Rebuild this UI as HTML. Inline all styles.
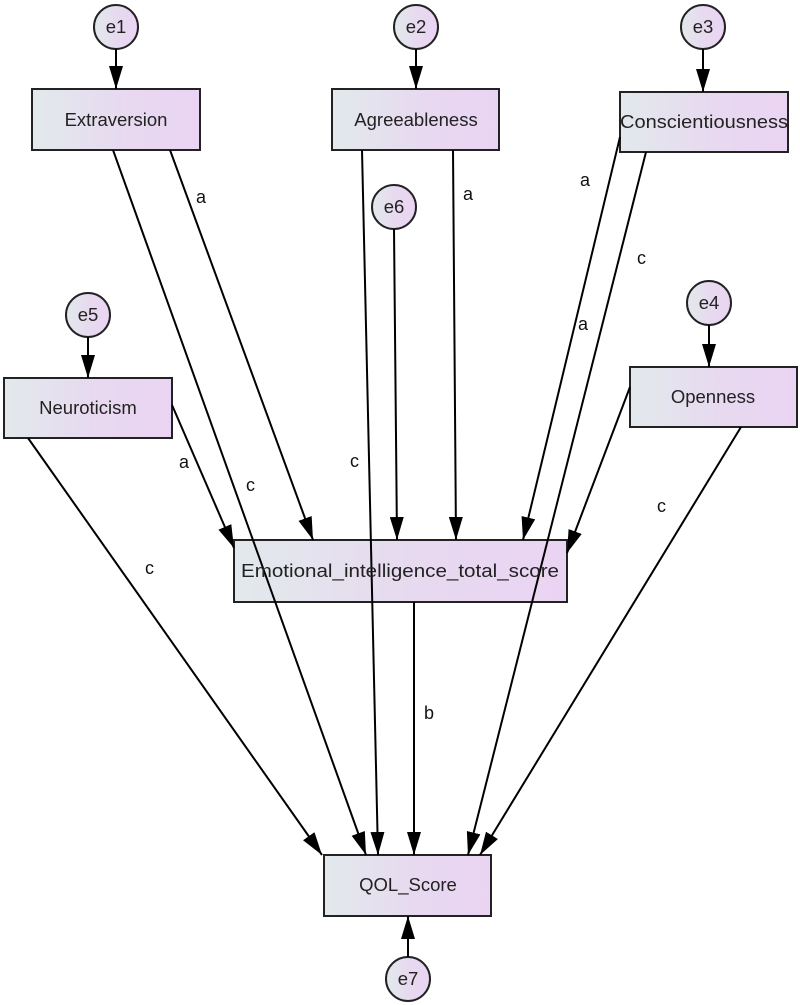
<!DOCTYPE html>
<html><head><meta charset="utf-8"><style>
html,body{margin:0;padding:0;background:#fff;}
svg{display:block;}
.bt{font-family:"Liberation Sans",sans-serif;font-size:18.5px;fill:#222;text-anchor:middle;}
.lb{font-family:"Liberation Sans",sans-serif;font-size:18px;fill:#111;}
</style></head><body>
<svg width="800" height="1005" viewBox="0 0 800 1005" xmlns="http://www.w3.org/2000/svg">
<defs>
<linearGradient id="g" x1="0" y1="0" x2="1" y2="0">
<stop offset="0" stop-color="#e2e9ec"/><stop offset="0.6" stop-color="#e8d8f0"/><stop offset="1" stop-color="#ead4f3"/>
</linearGradient>
<marker id="ar" markerWidth="23" markerHeight="14" refX="23" refY="7" orient="auto" markerUnits="userSpaceOnUse" viewBox="0 0 23 14">
<path d="M0,0 L23,7 L0,14 z" fill="#000"/>
</marker>
</defs>
<g stroke="#222" stroke-width="2" fill="url(#g)">
<rect x="32" y="89" width="168" height="61"/>
<rect x="332" y="89" width="167" height="61"/>
<rect x="620" y="92" width="168" height="60"/>
<rect x="4" y="378" width="168" height="60"/>
<rect x="630" y="367" width="167" height="60"/>
<rect x="234" y="540" width="333" height="62"/>
<rect x="324" y="855" width="167" height="61"/>
<circle cx="116" cy="27" r="22"/>
<circle cx="416" cy="27" r="22"/>
<circle cx="703" cy="27" r="22"/>
<circle cx="394" cy="207" r="22"/>
<circle cx="88" cy="315" r="22"/>
<circle cx="709" cy="303" r="22"/>
<circle cx="408" cy="979" r="22"/>
</g>
<g stroke="#000" stroke-width="2" fill="none" marker-end="url(#ar)">
<line x1="116" y1="49" x2="116" y2="89"/>
<line x1="416" y1="49" x2="416" y2="89"/>
<line x1="703" y1="49" x2="703" y2="92"/>
<line x1="88" y1="337" x2="88" y2="378"/>
<line x1="709" y1="325" x2="709" y2="367"/>
<line x1="408" y1="957" x2="408" y2="916"/>
<line x1="394" y1="229" x2="397" y2="540"/>
<line x1="170" y1="150" x2="313" y2="540"/>
<line x1="453" y1="150" x2="456" y2="540"/>
<line x1="620" y1="137" x2="523" y2="540"/>
<line x1="172" y1="405" x2="234" y2="548"/>
<line x1="630" y1="387" x2="567" y2="553"/>
<line x1="113" y1="150" x2="366" y2="855"/>
<line x1="362" y1="150" x2="378" y2="855"/>
<line x1="414" y1="602" x2="414" y2="855"/>
<line x1="646" y1="152" x2="468" y2="855"/>
<line x1="741" y1="427" x2="480" y2="855"/>
<line x1="28" y1="438" x2="322" y2="855"/>
</g>
<text class="bt" x="116" y="126">Extraversion</text>
<text class="bt" x="416" y="126">Agreeableness</text>
<text class="bt" x="704" y="128" textLength="168" lengthAdjust="spacingAndGlyphs">Conscientiousness</text>
<text class="bt" x="88" y="414">Neuroticism</text>
<text class="bt" x="713" y="403">Openness</text>
<text class="bt" x="400" y="577" textLength="318" lengthAdjust="spacingAndGlyphs">Emotional_intelligence_total_score</text>
<text class="bt" x="408" y="891">QOL_Score</text>
<g class="bt">
<text x="116" y="33">e1</text><text x="416" y="33">e2</text><text x="703" y="33">e3</text>
<text x="394" y="213">e6</text><text x="88" y="321">e5</text><text x="709" y="309">e4</text>
<text x="408" y="985">e7</text>
</g>
<g class="lb">
<text x="196" y="203">a</text>
<text x="463" y="200">a</text>
<text x="580" y="186">a</text>
<text x="637" y="264">c</text>
<text x="578" y="330">a</text>
<text x="179" y="468">a</text>
<text x="246" y="491">c</text>
<text x="350" y="467">c</text>
<text x="145" y="574">c</text>
<text x="657" y="512">c</text>
<text x="424" y="719">b</text>
</g>
</svg>
</body></html>
